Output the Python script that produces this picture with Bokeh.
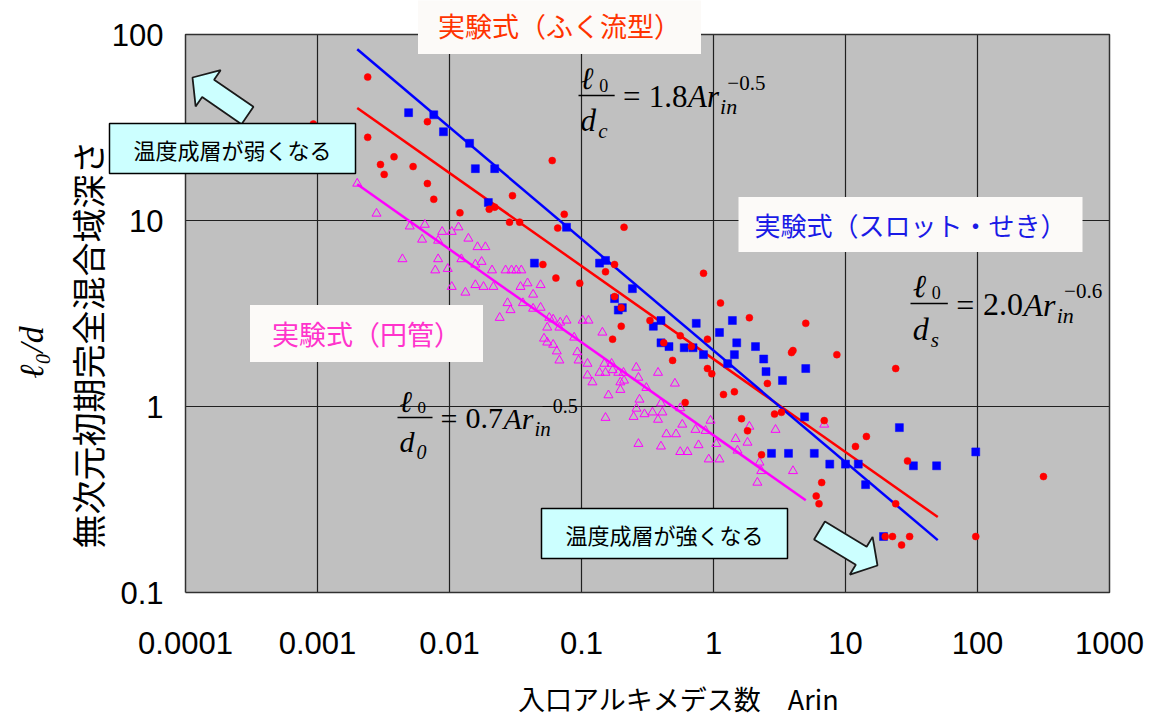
import math
from bokeh.plotting import figure
from bokeh.models import Label, Range1d
from bokeh.core.properties import value
from bokeh.embed import file_html
from bokeh.resources import INLINE

# ---------------- data ----------------
x_ticks = [0.0001, 0.001, 0.01, 0.1, 1, 10, 100, 1000]
x_tick_labels = ["0.0001", "0.001", "0.01", "0.1", "1", "10", "100", "1000"]
y_ticks = [0.1, 1, 10, 100]
y_tick_labels = ["0.1", "1", "10", "100"]

# radial (ふく流型) inlets
radial_ar = [0.00093, 0.0024, 0.0024, 0.0068, 0.0038, 0.0030, 0.0053, 0.0032, 0.0068, 0.0076,
             0.012, 0.060, 0.030, 0.020, 0.022, 0.0285, 0.034, 0.074, 0.066, 0.051,
             0.064, 0.21, 0.097, 0.178, 0.20, 0.152, 0.178, 0.20, 0.172, 0.84,
             0.33, 0.42, 0.49, 0.56, 0.68, 0.90, 0.90, 0.97, 0.61, 1.13,
             1.87, 1.19, 1.44, 3.9, 4.0, 2.56, 2.9, 3.27, 1.63, 1.81,
             2.31, 5.0, 8.6, 24, 6.9, 14.4, 11.9, 29.5, 6.6, 6.0,
             6.3, 24, 20, 22.7, 30.6, 97, 26.6, 316]
radial_l0 = [33, 59, 28, 34, 22, 20, 19.5, 17.7, 15.8, 13,
             11, 21, 13.6, 11.5, 11.8, 9.8, 9.8, 10.8, 9.1, 5.8,
             4.9, 9.2, 4.6, 3.9, 3.4, 5.3, 5.8, 2.7, 2.3, 5.2,
             2.9, 2.2, 1.77, 2.4, 2.1, 2.3, 1.6, 1.5, 1.05, 3.6,
             3.0, 1.16, 1.2, 1.95, 2.0, 1.33, 0.91, 0.93, 0.86, 0.74,
             0.55, 2.8, 1.9, 1.6, 0.84, 0.69, 0.61, 0.51, 0.39, 0.33,
             0.30, 0.30, 0.20, 0.20, 0.20, 0.20, 0.18, 0.42]

# slot / weir (スロット・せき) inlets
slot_ar = [0.0049, 0.0076, 0.009, 0.0142, 0.0157, 0.022, 0.0197, 0.077, 0.044, 0.137,
           0.152, 0.178, 0.19, 0.204, 0.243, 0.40, 0.35, 0.40, 0.46, 0.60,
           0.70, 0.84, 0.74, 1.11, 1.39, 1.5, 1.44, 1.28, 2.08, 2.4,
           2.5, 3.33, 2.75, 3.7, 5.0, 4.9, 25.6, 5.8, 7.6, 10,
           12.5, 14.2, 32.7, 49, 97, 19.4]
slot_l0 = [38, 37, 30, 26, 19, 19, 12.5, 9.2, 5.9, 5.9,
           6.1, 3.8, 3.3, 3.4, 4.3, 2.9, 2.7, 2.2, 2.1, 2.07,
           2.07, 1.9, 2.8, 2.5, 2.9, 2.2, 1.9, 1.7, 2.1, 1.8,
           1.54, 1.38, 0.56, 0.56, 1.6, 0.88, 0.77, 0.56, 0.49, 0.49,
           0.49, 0.38, 0.48, 0.48, 0.57, 0.20]

# circular pipe (円管) inlets
pipe_ar = [0.002, 0.0028, 0.005, 0.0065, 0.0062, 0.0082, 0.0088, 0.0104, 0.0117, 0.0139,
           0.0163, 0.0187, 0.0044, 0.0082, 0.0123, 0.0157, 0.0175, 0.0078, 0.0097, 0.021,
           0.0266, 0.0295, 0.032, 0.035, 0.0104, 0.0132, 0.0157, 0.0181, 0.0215, 0.0345,
           0.039, 0.049, 0.043, 0.0275, 0.029, 0.024, 0.036, 0.043, 0.049, 0.057,
           0.061, 0.069, 0.068, 0.077, 0.055, 0.102, 0.113, 0.088, 0.052, 0.055,
           0.061, 0.065, 0.068, 0.093, 0.095, 0.144, 0.111, 0.111, 0.121, 0.149,
           0.169, 0.137, 0.152, 0.172, 0.19, 0.208, 0.16, 0.197, 0.197, 0.21,
           0.26, 0.27, 0.31, 0.38, 0.51, 0.275, 0.261, 0.248, 0.30, 0.40,
           0.41, 0.38, 0.345, 0.56, 0.58, 0.73, 0.95, 0.87, 0.44, 0.52,
           0.27, 0.40, 0.56, 0.635, 0.77, 1.05, 1.11, 0.92, 1.47, 1.87,
           1.81, 1.52, 2.95, 0.152, 2.23, 2.3, 2.15, 4.0, 6.9]
pipe_l0 = [15.8, 10.9, 9.3, 9.5, 7.9, 7.8, 8.7, 8.7, 9.2, 8.0,
           7.2, 7.2, 6.2, 6.2, 6.2, 5.8, 6.0, 5.4, 5.5, 5.4,
           5.4, 5.4, 5.4, 5.4, 4.4, 4.1, 4.5, 4.4, 4.4, 4.4,
           4.6, 4.5, 4.0, 3.6, 3.3, 3.0, 3.6, 3.36, 3.4, 3.0,
           2.94, 2.83, 2.66, 2.9, 2.66, 2.9, 2.9, 2.35, 2.32, 2.21,
           2.15, 1.98, 1.77, 1.96, 1.77, 2.5, 1.7, 1.47, 1.35, 1.7,
           1.7, 1.52, 1.52, 1.57, 1.52, 1.52, 1.15, 1.23, 1.35, 1.38,
           1.62, 1.43, 1.26, 1.52, 1.33, 1.09, 0.975, 0.88, 0.91, 1.04,
           0.93, 0.85, 0.93, 0.98, 0.80, 0.75, 0.84, 0.74, 0.71, 0.71,
           0.63, 0.61, 0.57, 0.57, 0.62, 0.63, 0.52, 0.52, 0.67, 0.78,
           0.64, 0.58, 0.75, 0.87, 0.50, 0.45, 0.39, 0.45, 0.80]

# empirical fits  l0/d = C * Ar_in ** n  (radial, slot, pipe)
fit_coef = [1.8, 2.0, 0.7]
fit_exp = [-0.5, -0.6, -0.5]
fit_ar_min = [0.002, 0.002, 0.002]
fit_ar_max = [50, 50, 5]
fit_colors = ["#FF0000", "#0000FF", "#FF00FF"]

# ---------------- layout ----------------
W, H = 1155, 718
AX_L, AX_R, AX_T, AX_B = 185, 1109, 34, 592   # plotting area on the canvas (px)
LX0, LX1, LY0, LY1 = -4, 3, -1, 2             # log10 extents of that area

JP = "Noto Sans CJK JP"
SERIF = "Liberation Serif"
SANS = "Liberation Sans"


def to_data(px, py):
    """Canvas pixel position -> data coordinates of the log-log scales."""
    lx = LX0 + (px - AX_L) / (AX_R - AX_L) * (LX1 - LX0)
    ly = LY1 - (py - AX_T) / (AX_B - AX_T) * (LY1 - LY0)
    return 10 ** lx, 10 ** ly


x_lo, y_hi = to_data(0, 0)
x_hi, y_lo = to_data(W, H)

# the frame fills the canvas so that captions may sit anywhere on it
p = figure(width=W, height=H, x_axis_type="log", y_axis_type="log",
           x_axis_location=None, y_axis_location=None,
           x_range=Range1d(x_lo, x_hi), y_range=Range1d(y_lo, y_hi),
           output_backend="svg", toolbar_location=None, min_border=0,
           min_border_left=0, min_border_right=0, min_border_top=0, min_border_bottom=0)
p.background_fill_color = "white"
p.border_fill_color = "white"
p.outline_line_color = None
p.grid.visible = False

# plotting area, grid and border
xa0, xa1, ya0, ya1 = x_ticks[0], x_ticks[-1], y_ticks[0], y_ticks[-1]
p.quad(left=[xa0], right=[xa1], bottom=[ya0], top=[ya1], fill_color="#C0C0C0", line_color=None)
p.multi_line(xs=[[t, t] for t in x_ticks[1:-1]], ys=[[ya0, ya1]] * (len(x_ticks) - 2),
             line_color="#202020", line_width=1.2)
p.multi_line(xs=[[xa0, xa1]] * (len(y_ticks) - 2), ys=[[t, t] for t in y_ticks[1:-1]],
             line_color="#202020", line_width=1.2)
p.line([xa0, xa1, xa1, xa0, xa0], [ya0, ya0, ya1, ya1, ya0], line_color="#303030", line_width=1.5)

# tick labels
tx_y = to_data(0, 642)[1]
p.text(x=x_ticks, y=[tx_y] * len(x_ticks), text=x_tick_labels, text_align="center",
       text_baseline="middle", text_font=value(SANS), text_font_size="31px", text_color="black")
ty_x = to_data(163, 0)[0]
p.text(x=[ty_x] * len(y_ticks), y=y_ticks, text=y_tick_labels, text_align="right",
       text_baseline="middle", text_font=value(SANS), text_font_size="31px", text_color="black")

# fitted lines
for c, n, a0, a1, col in zip(fit_coef, fit_exp, fit_ar_min, fit_ar_max, fit_colors):
    xs = [a0, a1]
    p.line(xs, [c * x ** n for x in xs], line_color=col, line_width=2.5)

# measurements
p.scatter(pipe_ar, pipe_l0, marker="triangle", size=9, fill_color=None,
          line_color="#FF00FF", line_width=1)
p.scatter(slot_ar, slot_l0, marker="square", size=8, fill_color="#0000FF",
          line_color="#0000FF", line_width=0.5)
p.scatter(radial_ar, radial_l0, marker="circle", size=7, fill_color="#FF0000",
          line_color="#FF0000", line_width=0.5)


def put(px, py, text, size, color="black", font=SERIF, style="normal",
        align="left", baseline="middle", angle=0.0, **extra):
    x, y = to_data(px, py)
    p.add_layout(Label(x=x, y=y, text=text, text_font=font,
                       text_font_size=f"{size}px", text_color=color,
                       text_font_style=style, text_align=align,
                       text_baseline=baseline, angle=angle, **extra))


def boxed(cx, cy, text, size, color, fill, pad_v, pad_h, border=None):
    put(cx, cy, text, size, color=color, font=JP, align="center",
        background_fill_color=fill,
        border_line_color=border, border_line_width=1.5,
        padding=dict(left=pad_h, right=pad_h, top=pad_v, bottom=pad_v))


def formula(x0, y0, sub, coef, exp, size=30):
    s = size / 30
    put(x0 + 2 * s, y0 - 16 * s, "ℓ", size, style="italic")
    put(x0 + 20 * s, y0 - 10 * s, "0", round(17 * s))
    bx0, by = to_data(x0, y0)
    bx1, _ = to_data(x0 + 35 * s, y0)
    p.line([bx0, bx1], [by, by], line_color="black", line_width=1.3)
    put(x0 + 2 * s, y0 + 24 * s, "d", size, style="italic")
    put(x0 + 19 * s, y0 + 34 * s, sub, round(20 * s), style="italic")
    put(x0 + 43 * s, y0 + 1 * s, "=", size)
    put(x0 + 68 * s, y0 + 1 * s, coef, size)
    put(x0 + 106 * s, y0 + 1 * s, "Ar", size, style="italic")
    put(x0 + 137 * s, y0 + 11 * s, "in", round(21 * s), style="italic")
    put(x0 + 144 * s, y0 - 12 * s, exp, round(20 * s))


def block_arrow(tip, tail):
    tx, ty = tip
    dx, dy = tx - tail[0], ty - tail[1]
    L = math.hypot(dx, dy)
    ux, uy = dx / L, dy / L
    vx, vy = -uy, ux
    sw, hw, hl = 10.5, 22, 19
    pts = [(tail[0] + sw * vx, tail[1] + sw * vy),
           (tx - hl * ux + sw * vx, ty - hl * uy + sw * vy),
           (tx - hl * ux + hw * vx, ty - hl * uy + hw * vy),
           (tx, ty),
           (tx - hl * ux - hw * vx, ty - hl * uy - hw * vy),
           (tx - hl * ux - sw * vx, ty - hl * uy - sw * vy),
           (tail[0] - sw * vx, tail[1] - sw * vy)]
    xs, ys = zip(*[to_data(a, b) for a, b in pts])
    p.patch(list(xs), list(ys), fill_color="#CCFFFF", line_color="#1a1a1a", line_width=1.8)


# arrows showing the trend of thermal stratification
block_arrow((192, 77), (247, 115))
block_arrow((877, 565), (819, 530))

# formulas
formula(578, 95, "c", "1.8", "−0.5", size=31)
formula(910, 303, "s", "2.0", "−0.6", size=32)
formula(397, 417, "0", "0.7", "−0.5", size=30)

# captions of the three fits
boxed(559, 25, "実験式（ふく流型）", 27, "#FF3300", "#FCFAF8", 9, 20)
boxed(910, 224, "実験式（スロット・せき）", 26, "#1A1AE6", "#FCFAF8", 9, 16)
boxed(366, 333, "実験式（円管）", 27, "#FF33CC", "#FCFAF8", 9, 22)

# stratification notes
boxed(232, 148, "温度成層が弱くなる", 22, "black", "#CCFFFF", 9, 24, border="black")
boxed(664, 533, "温度成層が強くなる", 22, "black", "#CCFFFF", 9, 24, border="black")

# axis titles
put(678, 698, "入口アルキメデス数　Arin", 27, font=JP, align="center")
put(87, 344, "無次元初期完全混合域深さ", 34, font=JP, align="center", angle=math.pi / 2)
put(31, 352, "ℓ₀/d", 34, style="italic", align="center", angle=math.pi / 2)

open("out.html", "w").write(file_html(p, INLINE))
